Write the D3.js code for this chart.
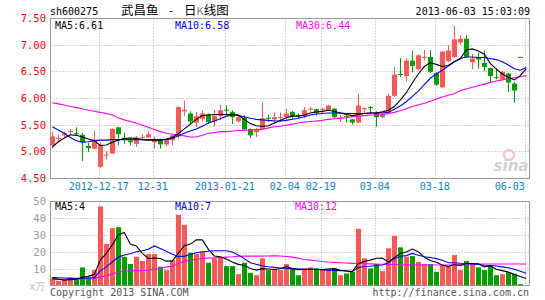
<!DOCTYPE html>
<html>
<head>
<meta charset="utf-8">
<script src="https://d3js.org/d3.v7.min.js"></script>
<style>
  html, body { margin: 0; padding: 0; background: #fff; }
  svg text { font-family: "DejaVu Sans Mono", "Liberation Mono", monospace; }
</style>
</head>
<body>
<div id="kChart"></div>
<script>
// 日K数据 (每根K线一项)
var opens  = [5.11,5.24,5.30,5.37,5.34,5.31,5.10,5.05,4.71,4.93,4.96,5.45,5.25,5.20,5.14,5.26,5.26,5.17,5.21,5.13,
              5.21,5.28,5.75,5.71,5.54,5.61,5.69,5.56,5.66,5.78,5.74,5.56,5.63,5.42,5.36,5.42,5.63,5.60,5.63,5.64,
              5.74,5.68,5.66,5.79,5.79,5.78,5.77,5.80,5.63,5.66,5.60,5.54,5.80,5.83,5.72,5.64,5.72,6.04,6.45,6.41,
              6.70,6.54,6.76,6.77,6.47,6.20,6.69,6.77,7.04,7.11,6.67,6.77,6.66,6.56,6.39,6.35,6.46,6.27,6.77];
var highs  = [5.37,5.31,5.36,5.42,5.45,5.35,5.16,5.39,5.17,5.00,5.43,5.46,5.35,5.25,5.29,5.32,5.38,5.28,5.23,5.24,
              5.33,5.84,5.95,5.75,5.74,5.77,5.71,5.78,5.87,5.86,5.77,5.66,5.68,5.43,5.44,5.92,5.69,5.73,5.73,5.80,
              5.76,5.71,5.83,5.83,5.80,5.82,5.87,5.81,5.69,5.71,5.61,6.08,5.82,5.85,5.75,5.73,6.08,6.58,6.75,6.74,
              6.89,6.82,6.90,6.90,6.48,6.88,6.99,7.36,7.18,7.18,6.83,6.85,6.89,6.57,6.56,6.51,6.47,6.30,6.77];
var lows   = [5.05,5.17,5.26,5.31,5.30,4.82,4.99,5.04,4.69,4.85,4.95,5.11,5.14,5.11,5.08,5.22,5.25,5.05,5.05,5.10,
              5.11,5.24,5.67,5.52,5.46,5.56,5.51,5.46,5.58,5.68,5.51,5.54,5.40,5.25,5.27,5.41,5.55,5.55,5.55,5.58,
              5.61,5.61,5.62,5.74,5.67,5.70,5.76,5.62,5.55,5.54,5.50,5.53,5.70,5.71,5.46,5.62,5.70,6.02,6.39,6.31,
              6.48,6.52,6.70,6.47,6.23,6.19,6.67,6.75,7.00,6.76,6.54,6.55,6.50,6.28,6.35,6.33,6.11,5.91,6.76];
var closes = [5.28,5.25,5.34,5.38,5.32,5.17,5.06,5.22,5.12,4.94,5.42,5.32,5.24,5.17,5.26,5.27,5.32,5.22,5.13,5.21,
              5.30,5.83,5.78,5.56,5.66,5.71,5.55,5.67,5.77,5.77,5.64,5.64,5.41,5.30,5.42,5.62,5.62,5.64,5.64,5.71,
              5.66,5.66,5.77,5.80,5.72,5.79,5.86,5.64,5.64,5.65,5.54,5.86,5.81,5.82,5.64,5.70,6.04,6.44,6.44,6.70,
              6.60,6.80,6.77,6.49,6.25,6.87,6.89,7.10,7.11,6.77,6.74,6.72,6.58,6.41,6.38,6.49,6.29,6.14,6.76];
// 成交量 (万手)
var volumes = [4.2,2.7,3.2,4.8,3.6,10.7,4.8,9.1,46.8,24.6,33.9,34.5,17,12.7,17,14.5,18.6,18.6,11.1,9.1,
               15.1,41.8,35.9,19.4,18.6,20,13.5,16.1,16.7,11.5,11.5,6.7,13.5,7.5,6.1,16.1,9.1,9.1,9.1,12.7,
               10.1,6.1,10.1,10.7,10.1,9.5,9.5,10.1,6.1,7.1,8.1,33.5,16.1,10.1,12.7,8.5,22,29.3,22.6,17,
               17.4,14,12.7,12.7,8.1,12.1,11.1,18,9.1,14.5,12.7,10.7,9.1,11.5,6.1,6.7,8.0,7.0,0.8];
// 均线
var ma5  = [5.08,5.18,5.25,5.31,5.30,5.27,5.23,5.20,5.11,5.12,5.17,5.21,5.24,5.25,5.24,5.22,5.21,5.21,5.21,5.23,
            5.26,5.33,5.42,5.51,5.60,5.67,5.68,5.69,5.69,5.69,5.69,5.68,5.60,5.52,5.48,5.47,5.48,5.53,5.58,5.63,
            5.66,5.66,5.68,5.72,5.74,5.75,5.77,5.75,5.72,5.69,5.67,5.69,5.71,5.72,5.72,5.74,5.77,5.84,5.96,6.10,
            6.28,6.45,6.59,6.66,6.63,6.59,6.61,6.68,6.74,6.90,6.92,6.88,6.82,6.65,6.54,6.45,6.39,6.34,6.42,6.55];
var ma10 = [5.46,5.40,5.34,5.26,5.20,5.17,5.18,5.20,5.21,5.21,5.22,5.22,5.22,5.22,5.22,5.22,5.22,5.22,5.22,5.22,
            5.24,5.29,5.34,5.38,5.42,5.47,5.53,5.57,5.61,5.66,5.68,5.67,5.65,5.62,5.60,5.59,5.58,5.57,5.57,5.58,
            5.60,5.62,5.65,5.68,5.70,5.71,5.72,5.72,5.72,5.71,5.71,5.71,5.71,5.72,5.72,5.72,5.73,5.79,5.85,5.93,
            6.03,6.13,6.25,6.37,6.45,6.52,6.60,6.68,6.74,6.77,6.77,6.76,6.76,6.74,6.72,6.68,6.62,6.55,6.52,6.57];
var ma30 = [5.91,5.89,5.87,5.84,5.82,5.80,5.77,5.75,5.73,5.71,5.68,5.63,5.59,5.56,5.53,5.49,5.45,5.41,5.37,5.34,
            5.32,5.31,5.29,5.27,5.27,5.30,5.34,5.35,5.37,5.37,5.38,5.39,5.39,5.40,5.41,5.41,5.44,5.46,5.47,5.49,
            5.51,5.53,5.55,5.56,5.57,5.58,5.60,5.61,5.62,5.63,5.65,5.66,5.67,5.68,5.68,5.69,5.71,5.73,5.76,5.80,
            5.84,5.87,5.90,5.94,5.98,6.02,6.05,6.08,6.14,6.17,6.20,6.23,6.26,6.29,6.32,6.34,6.36,6.38,6.40,6.42];
var volMa5  = [4.2,3.7,3.2,3.5,3.7,4.8,5.4,6.6,15,19,24,30,31.4,24.5,23.4,19,16,16.3,16,14.4,
               14.5,19,23.6,24.5,27,27,21.5,17.5,17,15.7,13.9,12.5,11.8,10.1,9.1,10,9.8,9.5,9.9,11.2,
               10,9.4,9.6,9.8,9.5,9.4,9.8,10,9,8.6,8.2,13,14.2,15,16.1,16.2,14,16.5,19,19.8,
               21.6,20,16.7,14.8,13.8,12.1,11.2,12.4,11.7,13,13,12.9,11,11.7,9.6,8.8,7.9,6.5,5.3,4.2];
var volMa10 = [4.8,4.6,4.4,4.2,4.2,4.3,4.4,4.6,8.7,11,13.9,16.8,18,18.8,20,20.6,21.4,23.4,21.9,20.3,
               18.5,17.2,17.4,18.3,19.4,20,20.3,20.6,20.6,20.6,19.8,18,15.9,13.5,12.5,11.7,11.1,10.7,10.4,10.1,
               10,9.8,9.6,9.5,9.6,9.3,9.1,8.9,8.8,8.6,8.3,10.6,11.2,11.4,12,12.1,13.4,15.9,17.3,17.7,
               19,17.9,17,16.6,15.9,15,13.5,13.5,13.2,13,12.7,12.4,12,11.8,11.5,11,10.5,9.6,8.4,7.2];
var volMa30 = [3.6,3.6,3.7,3.7,3.8,3.9,4.0,4.2,5.1,5.8,6.8,8.0,8.6,8.7,8.8,8.9,9.1,9.5,10.2,11.0,
               11.4,13.0,14.2,15.0,15.5,16.0,16.2,16.4,16.6,16.8,17.0,17.3,17.4,17.4,17.4,17.4,17.5,17.6,17.5,17.2,
               16.8,16.2,15.4,15.0,14.6,14.2,13.9,13.7,13.5,13.3,13.1,13.0,12.9,12.8,12.7,12.6,12.5,12.4,12.3,12.2,
               12.1,12.1,12.1,12.1,12.1,12.1,12.1,12.2,12.4,12.6,12.7,12.7,12.7,12.7,12.7,12.7,12.7,12.7,12.7,12.7];
// 坐标轴刻度
var priceTicks = [4.5,5.0,5.5,6.0,6.5,7.0,7.5];
var volTicks = [10,20,30,40,50];
var dateLabels = ["2012-12-17","12-31","2013-01-21","02-04","02-19","03-04","03-18","06-03"];
var dateIdx = [7,16,28,38,44,53,63,78];
var slotCount = 80;

drawK("kChart");

function drawK(divname) {
    var W = 545, H = 300;
    var left = 50.5, right = 529.5;
    var pTop = 18.5, pBottom = 178.5;
    var vTop = 201.5, vBottom = 285.5;
    var red = "#ff5555", green = "#00a000";

    var svg = d3.select("#" + divname).append("svg")
        .attr("width", W).attr("height", H);

    var x = d3.scaleLinear().domain([-0.5, slotCount - 0.5]).range([49.3, 529.3]);
    var yP = d3.scaleLinear().domain([4.5, 7.5]).range([178, 18]);
    var yV = d3.scaleLinear().domain([0, 50]).range([285.5, 201]);

    svg.append("clipPath").attr("id", "clipP").append("rect")
        .attr("x", left).attr("y", pTop).attr("width", right - left).attr("height", pBottom - pTop);
    svg.append("clipPath").attr("id", "clipV").append("rect")
        .attr("x", left).attr("y", vTop).attr("width", right - left).attr("height", vBottom - vTop);

    // 标题
    svg.append("text").attr("x", 50).attr("y", 15).text("sh600275")
        .style("font-size", "10px").attr("fill", "#000");
    svg.append("text").attr("x", 121).attr("y", 15).text("武昌鱼")
        .style("font-family", "Noto Sans CJK SC").style("font-size", "12.5px");
    svg.append("text").attr("x", 171).attr("y", 14).text("-").attr("text-anchor", "middle")
        .style("font-size", "11px");
    svg.append("text").attr("x", 184).attr("y", 15)
        .style("font-family", "Noto Sans CJK SC").style("font-size", "12.5px")
        .call(function (t) {
            t.append("tspan").text("日");
            t.append("tspan").text("K").attr("fill", "#777").style("font-size", "11px");
            t.append("tspan").text("线图");
        });
    svg.append("text").attr("x", 530).attr("y", 15).text("2013-06-03 15:03:09")
        .attr("text-anchor", "end").style("font-size", "10px");

    // 网格
    var grid = svg.append("g").attr("stroke", "#aaa").attr("stroke-dasharray", "1,2");
    grid.selectAll(".hp").data(priceTicks.slice(1, -1)).enter().append("line")
        .attr("x1", left).attr("x2", right)
        .attr("y1", function (d) { return Math.round(yP(d)) + 0.5; })
        .attr("y2", function (d) { return Math.round(yP(d)) + 0.5; });
    grid.selectAll(".hv").data(volTicks.slice(0, -1)).enter().append("line")
        .attr("x1", left).attr("x2", right)
        .attr("y1", function (d) { return Math.round(yV(d)) + 0.5; })
        .attr("y2", function (d) { return Math.round(yV(d)) + 0.5; });
    dateIdx.forEach(function (d) {
        var gx = Math.round(x(d + 0.75)) + 0.5;
        grid.append("line").attr("x1", gx).attr("x2", gx).attr("y1", pTop).attr("y2", pBottom);
        grid.append("line").attr("x1", gx).attr("x2", gx).attr("y1", vTop).attr("y2", vBottom);
    });

    // 边框
    svg.append("rect").attr("x", left).attr("y", pTop).attr("width", right - left).attr("height", pBottom - pTop)
        .attr("fill", "none").attr("stroke", "#999");
    svg.append("rect").attr("x", left).attr("y", vTop).attr("width", right - left).attr("height", vBottom - vTop)
        .attr("fill", "none").attr("stroke", "#999");

    // 水印
    var wm = svg.append("g");
    wm.append("circle").attr("cx", 509).attr("cy", 155).attr("r", 5)
        .attr("fill", "none").attr("stroke", "#f5c8c8").attr("stroke-width", 2.5);
    wm.append("text").attr("x", 511).attr("y", 171).text("sina").attr("text-anchor", "middle")
        .style("font-family", "DejaVu Sans").style("font-style", "italic").style("font-weight", "bold")
        .style("font-size", "15px").attr("fill", "#d0d0d0");

    // 价格刻度
    svg.selectAll(".pl").data(priceTicks).enter().append("text")
        .attr("x", 46).attr("y", function (d) { return yP(d) + 4; })
        .attr("text-anchor", "end").attr("fill", "#f00").style("font-size", "10.5px")
        .text(function (d) { return d.toFixed(2); });
    svg.selectAll(".vl").data(volTicks).enter().append("text")
        .attr("x", 46).attr("y", function (d) { return yV(d) + 4; })
        .attr("text-anchor", "end").attr("fill", "#999").style("font-size", "10.5px")
        .text(function (d) { return d; });
    svg.append("text").attr("x", 29).attr("y", 290).text("x万")
        .attr("fill", "#bbb").style("font-size", "10px");

    // 日期刻度
    svg.selectAll(".dl").data(dateLabels).enter().append("text")
        .attr("x", function (d, i) { return x(dateIdx[i] + 0.75); })
        .attr("y", 190)
        .attr("text-anchor", function (d, i) { return i === dateLabels.length - 1 ? "end" : "middle"; })
        .attr("fill", "#0088cc")
        .style("font-size", "10px")
        .text(function (d) { return d; });

    // K线
    var kg = svg.append("g").attr("clip-path", "url(#clipP)");
    var candles = kg.selectAll("g").data(closes).enter().append("g");
    candles.append("line")
        .attr("x1", function (d, i) { return Math.round(x(i)) + 0.5; })
        .attr("x2", function (d, i) { return Math.round(x(i)) + 0.5; })
        .attr("y1", function (d, i) { return yP(highs[i]); })
        .attr("y2", function (d, i) { return yP(lows[i]); })
        .attr("stroke", function (d, i) { return d >= opens[i] ? red : green; });
    candles.append("rect")
        .attr("x", function (d, i) { return Math.round(x(i)) - 2; })
        .attr("width", 5)
        .attr("y", function (d, i) { return yP(Math.max(d, opens[i])); })
        .attr("height", function (d, i) { return Math.max(1, Math.abs(yP(d) - yP(opens[i]))); })
        .attr("fill", function (d, i) { return d >= opens[i] ? red : green; });

    // 成交量
    svg.append("g").attr("clip-path", "url(#clipV)").selectAll("rect").data(volumes).enter().append("rect")
        .attr("x", function (d, i) { return Math.round(x(i)) - 2; })
        .attr("width", 5)
        .attr("y", function (d) { return yV(d); })
        .attr("height", function (d) { return yV(0) - yV(d); })
        .attr("fill", function (d, i) { return closes[i] >= opens[i] ? red : green; });

    // 均线
    function maLine(arr, yScale, color, clip) {
        var line = d3.line()
            .x(function (d, i) { return x(i); })
            .y(function (d) { return yScale(d); });
        svg.append("path").datum(arr).attr("d", line)
            .attr("clip-path", "url(#" + clip + ")")
            .attr("fill", "none").attr("stroke", color).attr("stroke-width", 1.1);
    }
    maLine(ma30, yP, "#ff00ff", "clipP");
    maLine(ma10, yP, "#0000ff", "clipP");
    maLine(ma5, yP, "#000000", "clipP");
    maLine(volMa30, yV, "#ff00ff", "clipV");
    maLine(volMa10, yV, "#0000ff", "clipV");
    maLine(volMa5, yV, "#000000", "clipV");

    // 图例
    var legends = [
        {t: "MA5:6.61", c: "#000", x: 55, y: 28.5},
        {t: "MA10:6.58", c: "#00f", x: 175, y: 28.5},
        {t: "MA30:6.44", c: "#f0f", x: 296, y: 28.5},
        {t: "MA5:4", c: "#000", x: 55, y: 210},
        {t: "MA10:7", c: "#00f", x: 175, y: 210},
        {t: "MA30:12", c: "#f0f", x: 295, y: 210}
    ];
    svg.selectAll(".lg").data(legends).enter().append("text")
        .attr("x", function (d) { return d.x; }).attr("y", function (d) { return d.y; })
        .attr("fill", function (d) { return d.c; }).style("font-size", "10px")
        .text(function (d) { return d.t; });

    // 版权
    svg.append("text").attr("x", 50).attr("y", 296).text("Copyright 2013 SINA.COM")
        .attr("fill", "#555").style("font-size", "10px");
    svg.append("text").attr("x", 529).attr("y", 296).text("http://finance.sina.com.cn")
        .attr("text-anchor", "end").attr("fill", "#555").style("font-size", "10px");
}
</script>
</body>
</html>
